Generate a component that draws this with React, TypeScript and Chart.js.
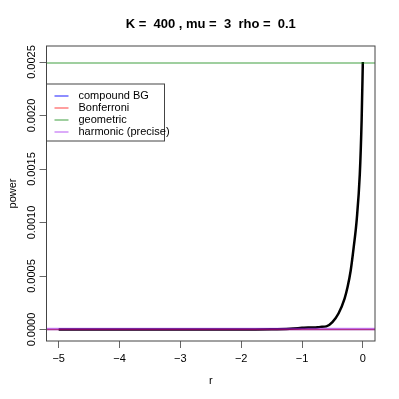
import { useEffect, useRef } from 'react';
import { Chart, registerables } from 'chart.js';

Chart.register(...registerables);

const titleText = 'K =  400 , mu =  3  rho =  0.1';
const xAxisLabel = 'r';
const yAxisLabel = 'power';

const xTicks = [-5, -4, -3, -2, -1, 0];
const yTicks = [0, 0.0005, 0.001, 0.0015, 0.002, 0.0025];
const xLimits = [-5.2, 0.2];
const yLimits = [-0.000107, 0.00265];

// black curve
const rValues = [-5, -4, -3, -2, -1.5, -1.2, -1.0, -0.9, -0.8, -0.7, -0.6, -0.5, -0.4, -0.3, -0.25, -0.2, -0.15, -0.1, -0.05, -0.02, 0];
const curvePower = [0, 0, 0, 0.000001, 0.000003, 0.000008, 0.000016, 0.00002, 0.000018, 0.000025, 0.00003, 0.00007, 0.00015, 0.00029, 0.0004, 0.00055, 0.00077, 0.00103, 0.00145, 0.00195, 0.0025];

// horizontal reference lines
const seriesNames = ['compound BG', 'Bonferroni', 'geometric', 'harmonic (precise)'];
const seriesLevels = [0, 0, 0.00249, 0.00001];
const seriesColors = ['rgba(0,0,255,0.6)', 'rgba(255,0,0,0.5)', 'rgba(0,128,0,0.5)', 'rgba(160,32,240,0.5)'];

const FONT = '"Liberation Sans", Arial, Helvetica, sans-serif';

const decorPlugin = {
  id: 'decor',
  afterDraw(chart: any) {
    const { ctx, chartArea: a, scales } = chart;
    ctx.save();
    // box
    ctx.strokeStyle = '#444';
    ctx.lineWidth = 1;
    ctx.strokeRect(a.left, a.top, a.right - a.left, a.bottom - a.top);
    // title
    ctx.fillStyle = '#000';
    ctx.font = `bold 13px ${FONT}`;
    ctx.textAlign = 'center';
    ctx.textBaseline = 'middle';
    ctx.fillText(titleText, (a.left + a.right) / 2, 24);
    // y tick labels
    ctx.font = `11px ${FONT}`;
    const ys = scales.y;
    ys.ticks.forEach((t: any) => {
      const y = ys.getPixelForValue(t.value);
      ctx.save();
      ctx.translate(32, y);
      ctx.rotate(-Math.PI / 2);
      ctx.fillText(t.value.toFixed(4), 0, 0);
      ctx.restore();
    });
    // axis titles
    ctx.save();
    ctx.translate(13, (a.top + a.bottom) / 2);
    ctx.rotate(-Math.PI / 2);
    ctx.fillText(yAxisLabel, 0, 0);
    ctx.restore();
    ctx.fillText(xAxisLabel, (a.left + a.right) / 2, 381);
    // legend
    const lx = a.left, ly = 84, lw = 118, lh = 57;
    ctx.fillStyle = '#fff';
    ctx.fillRect(lx, ly, lw, lh);
    ctx.strokeStyle = '#444';
    ctx.strokeRect(lx, ly, lw, lh);
    ctx.textAlign = 'left';
    chart.data.datasets.forEach((ds: any, i: number) => {
      if (i >= seriesNames.length) return;
      const yy = ly + 12 + i * 12;
      ctx.strokeStyle = ds.borderColor;
      ctx.lineWidth = 1.5;
      ctx.beginPath();
      ctx.moveTo(lx + 8, yy);
      ctx.lineTo(lx + 22, yy);
      ctx.stroke();
      ctx.fillStyle = '#000';
      ctx.fillText(ds.label, lx + 32, yy);
    });
    ctx.restore();
  },
};

export default function App() {
  const ref = useRef<HTMLCanvasElement>(null);
  useEffect(() => {
    if (!ref.current) return;
    const datasets: any[] = seriesNames.map((name, i) => ({
      label: name,
      data: xLimits.map((x) => ({ x, y: seriesLevels[i] })),
      borderColor: seriesColors[i],
      backgroundColor: seriesColors[i],
      borderWidth: 1.5,
      pointRadius: 0,
      order: seriesNames.length - i,
    }));
    datasets.push({
      label: 'curve',
      data: rValues.map((x, i) => ({ x, y: curvePower[i] })),
      borderColor: '#000',
      backgroundColor: '#000',
      borderWidth: 2.5,
      pointRadius: 0,
      cubicInterpolationMode: 'monotone',
      order: 10,
    });
    const chart = new Chart(ref.current, {
      type: 'line',
      data: { datasets },
      options: {
        responsive: false,
        animation: false,
        layout: { padding: { top: 46, right: 24, left: 0, bottom: 0 } },
        plugins: { legend: { display: false }, tooltip: { enabled: false }, title: { display: false } },
        scales: {
          x: {
            type: 'linear',
            min: xLimits[0],
            max: xLimits[1],
            afterBuildTicks: (s: any) => { s.ticks = xTicks.map((v) => ({ value: v })); },
            afterFit: (s: any) => { s.height = 58; },
            border: { display: false },
            grid: { display: true, drawOnChartArea: false, drawTicks: true, tickLength: 7, color: '#666' },
            ticks: {
              color: '#000',
              font: { family: FONT, size: 11 },
              padding: 4,
              maxRotation: 0,
              callback: (v: any) => (v < 0 ? '\u2212' + Math.abs(v) : String(v)),
            },
          },
          y: {
            type: 'linear',
            min: yLimits[0],
            max: yLimits[1],
            afterBuildTicks: (s: any) => { s.ticks = yTicks.map((v) => ({ value: v })); },
            afterFit: (s: any) => { s.width = 46.5; },
            border: { display: false },
            grid: { display: true, drawOnChartArea: false, drawTicks: true, tickLength: 7, color: '#666' },
            ticks: { display: false },
          },
        },
      },
      plugins: [decorPlugin],
    });
    return () => chart.destroy();
  }, []);
  return (
    <div style={{ position: 'fixed', left: 0, top: 0, width: 399, height: 399 }}>
      <canvas ref={ref} width={399} height={399} style={{ display: 'block' }} />
    </div>
  );
}
